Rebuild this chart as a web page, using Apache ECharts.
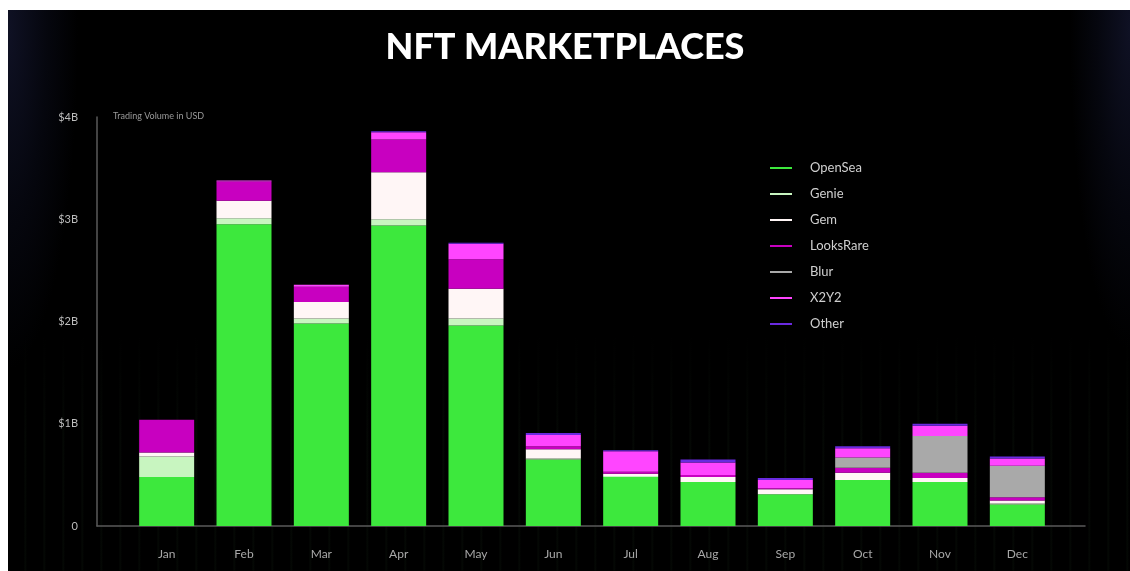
<!DOCTYPE html>
<html>
<head>
<meta charset="utf-8">
<script src="https://cdn.jsdelivr.net/npm/echarts@6/dist/echarts.min.js"></script>
<style>
  html, body { margin: 0; padding: 0; background: #ffffff; }
  #panel {
    position: absolute; left: 8px; top: 10px; width: 1122px; height: 561px;
    background:
      radial-gradient(ellipse 70px 340px at 0px 20px, rgba(16,18,38,0.95) 0%, rgba(10,12,26,0.55) 55%, rgba(0,0,0,0) 100%) left top / 120px 420px no-repeat,
      radial-gradient(ellipse 60px 320px at 100% 20px, rgba(16,18,38,0.95) 0%, rgba(10,12,26,0.55) 55%, rgba(0,0,0,0) 100%) right top / 120px 420px no-repeat,
      linear-gradient(180deg, #000000 0%, rgba(0,0,0,0) 45%) left bottom / 100% 42% no-repeat,
      repeating-linear-gradient(90deg, rgba(20,40,20,0) 0px, rgba(20,40,20,0) 16px, rgba(25,45,25,0.22) 17px, rgba(20,40,20,0) 19px) left bottom / 100% 42% no-repeat,
      #000000;
  }
  #chart { position: absolute; left: 0; top: 0; width: 1130px; height: 571px; }
</style>
</head>
<body>
<div id="panel"></div>
<div id="chart"></div>
<script>
const months = ['Jan','Feb','Mar','Apr','May','Jun','Jul','Aug','Sep','Oct','Nov','Dec'];
const yTickLabels = ['0','$1B','$2B','$3B','$4B'];
const openSea   = [0.48, 2.95, 1.98, 2.94, 1.96, 0.65, 0.48, 0.43, 0.31, 0.45, 0.43, 0.21];
const genie     = [0.20, 0.06, 0.05, 0.06, 0.07, 0.01, 0.01, 0.00, 0.00, 0.00, 0.00, 0.01];
const gem       = [0.04, 0.17, 0.16, 0.46, 0.29, 0.09, 0.02, 0.05, 0.05, 0.07, 0.04, 0.03];
const looksRare = [0.32, 0.19, 0.15, 0.32, 0.29, 0.03, 0.02, 0.02, 0.01, 0.05, 0.05, 0.03];
const blur      = [0.00, 0.00, 0.00, 0.00, 0.00, 0.00, 0.00, 0.00, 0.00, 0.10, 0.36, 0.31];
const x2y2      = [0.00, 0.01, 0.02, 0.07, 0.15, 0.11, 0.20, 0.12, 0.08, 0.09, 0.10, 0.07];
const other     = [0.00, 0.00, 0.00, 0.01, 0.01, 0.02, 0.01, 0.03, 0.02, 0.02, 0.02, 0.02];

const seriesDefs = [
  { name: 'OpenSea',   data: openSea,   color: '#3de83d' },
  { name: 'Genie',     data: genie,     color: '#c8f5c0' },
  { name: 'Gem',       data: gem,       color: '#fff6f6' },
  { name: 'LooksRare', data: looksRare, color: '#c800c0' },
  { name: 'Blur',      data: blur,      color: '#a9a9a9' },
  { name: 'X2Y2',      data: x2y2,      color: '#ff45ff' },
  { name: 'Other',     data: other,     color: '#6a2ae0' }
];

const chart = echarts.init(document.getElementById('chart'));
chart.setOption({
  backgroundColor: 'transparent',
  animation: false,
  title: {
    text: 'NFT MARKETPLACES',
    left: 'center', top: 24,
    textStyle: { color: '#ffffff', fontFamily: 'Lato', fontWeight: 900, fontSize: 36 }
  },
  graphic: [{
    type: 'text', left: 113, top: 112,
    style: { text: 'Trading Volume in USD', fill: '#9a9a9a', font: '9px Lato' }
  }],
  legend: {
    orient: 'vertical', left: 765, top: 155,
    icon: 'rect', itemWidth: 22, itemHeight: 2, itemGap: 10,
    textStyle: { color: '#cfcfcf', fontFamily: 'Lato', fontSize: 13, lineHeight: 16, padding: [0, 0, 0, 13] },
    data: seriesDefs.map(s => s.name)
  },
  grid: [
    { left: 128, right: 74, top: 117, bottom: 45 },
    { left: 97, right: 45, top: 117, bottom: 45 }
  ],
  xAxis: [
    {
      type: 'category', data: months, gridIndex: 0,
      axisLine: { show: false }, axisTick: { show: false },
      axisLabel: { color: '#a8a8a8', fontFamily: 'Lato', fontSize: 12, margin: 22 }
    },
    {
      type: 'value', gridIndex: 1, min: 0, max: 1,
      axisLine: { show: true, onZero: false, lineStyle: { color: '#5a5a5a', width: 1.5 } },
      axisTick: { show: false }, axisLabel: { show: false }, splitLine: { show: false }
    }
  ],
  yAxis: [
    {
      type: 'value', gridIndex: 0, min: 0, max: 4, interval: 1,
      axisLine: { show: false }, axisTick: { show: false }, splitLine: { show: false },
      axisLabel: {
        color: '#bdbdbd', fontFamily: 'Lato', fontSize: 11, margin: 50,
        formatter: v => yTickLabels[v]
      }
    },
    {
      type: 'value', gridIndex: 1, min: 0, max: 1,
      axisLine: { show: true, onZero: false, lineStyle: { color: '#5a5a5a', width: 1.5 } },
      axisTick: { show: false }, axisLabel: { show: false }, splitLine: { show: false }
    }
  ],
  series: seriesDefs.map(s => ({
    name: s.name, type: 'bar', stack: 'total',
    xAxisIndex: 0, yAxisIndex: 0,
    barWidth: 55,
    itemStyle: { color: s.color },
    data: s.data
  }))
});
</script>
</body>
</html>
